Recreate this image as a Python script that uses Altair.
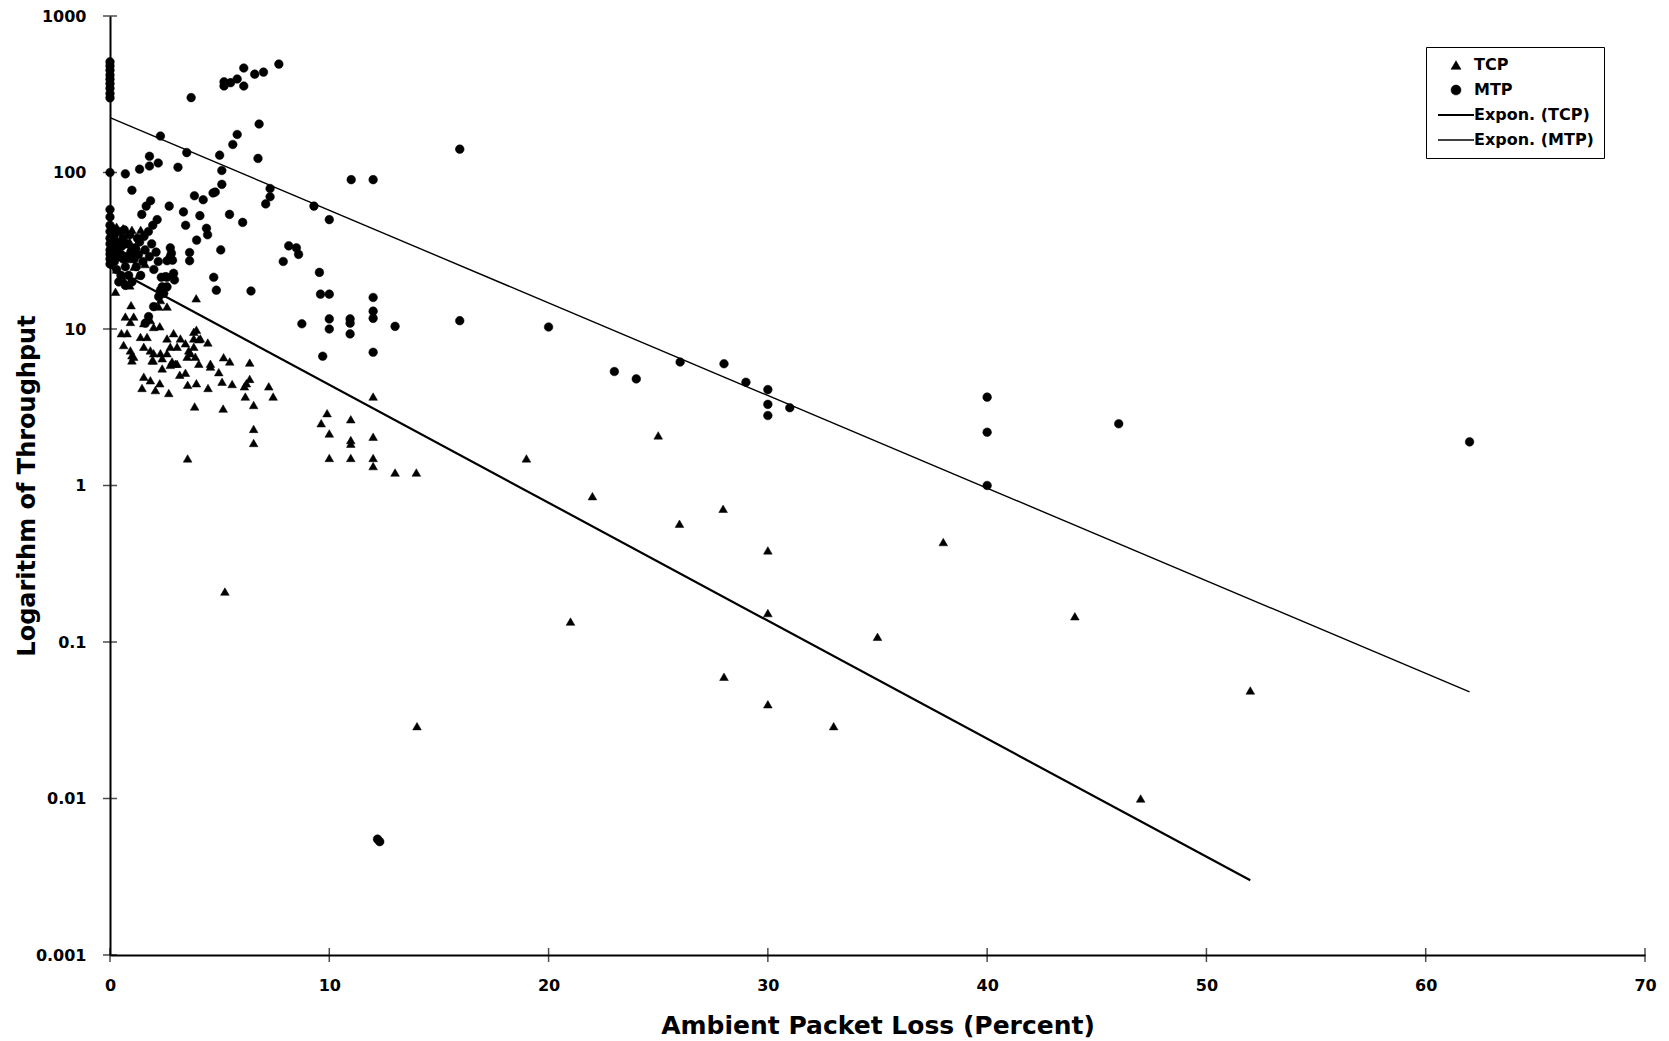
import altair as alt
import pandas as pd

series_names = ["TCP", "MTP", "Expon. (TCP)", "Expon. (MTP)"]
x_ticks = [0, 10, 20, 30, 40, 50, 60, 70]
y_ticks = [0.001, 0.01, 0.1, 1, 10, 100, 1000]

tcp_x = [0.3, 0.6, 1.0, 1.4, 0.5, 0.9, 1.2, 0.4, 0.8, 1.1, 0.3, 0.6, 1.3, 1.6, 0.9,
         0.25, 0.96, 0.7, 1.08, 0.93, 0.52, 0.78, 0.62, 0.93, 1.08, 1.0, 1.0,
         1.54, 1.84, 1.99, 1.69, 1.39, 2.22, 2.3, 2.6, 2.27, 2.6, 2.9, 3.21, 3.44, 3.06, 2.75, 1.54, 1.84, 1.99, 2.3, 2.6,
         3.59, 3.82, 3.89, 4.05, 3.67, 3.52, 3.94, 3.82, 4.12, 4.46, 3.93, 1.92, 2.38, 2.83, 3.06,
         1.54, 1.46, 1.84, 2.07, 2.27, 2.68, 1.97, 2.38, 2.98, 2.75, 3.18, 3.44, 3.54, 3.94, 3.86, 4.47, 4.58, 4.58, 4.96, 5.18, 5.46, 5.11, 5.57, 5.16, 3.54, 4.05, 3.82,
         6.37, 6.37, 6.22, 6.13, 6.17, 6.55, 6.55, 6.55, 7.24, 7.44,
         12.0, 9.9, 9.63, 10.98, 10.0, 10.98, 10.98, 12.0, 10.0, 10.98, 12.0, 12.0, 13.0, 13.97, 18.99,
         25, 22, 25.97, 27.96, 30, 30, 21, 28, 30, 33, 35, 38, 44, 47, 52, 14, 5.24]
tcp_y = [45, 44, 43, 43, 38, 36, 34, 30, 28, 25, 24, 21, 22, 26, 19,
         17.3, 14.2, 12.0, 12.0, 11.1, 9.4, 9.4, 7.9, 7.3, 6.65, 6.3, 6.8,
         10.9, 11.4, 10.3, 8.9, 8.9, 13.9, 15.3, 13.9, 10.4, 8.7, 9.4, 8.7, 8.1, 7.7, 7.7, 7.7, 7.3, 7.0, 7.0, 7.0,
         7.3, 7.7, 6.65, 6.0, 7.0, 6.65, 9.9, 8.7, 8.7, 8.2, 15.7, 6.3, 6.5, 6.2, 6.0,
         4.96, 4.2, 4.7, 4.07, 4.5, 3.9, 6.3, 5.6, 6.0, 5.9, 5.1, 5.25, 4.4, 4.5, 3.2, 4.2, 6.0, 5.75, 5.3, 6.6, 6.2, 4.6, 4.45, 3.1, 1.49, 8.6, 9.6,
         6.1, 4.8, 4.5, 4.3, 3.7, 3.27, 2.3, 1.87, 4.3, 3.7,
         3.7, 2.9, 2.5, 2.65, 2.15, 1.95, 1.85, 2.05, 1.5, 1.5, 1.5, 1.33, 1.21, 1.21, 1.49,
         2.09, 0.855, 0.57, 0.71, 0.385, 0.153, 0.135, 0.06, 0.04, 0.029, 0.108, 0.435, 0.146, 0.01, 0.049, 0.029, 0.21]

mtp_x = [0] * 20 + \
        [3.7, 5.2, 5.2, 5.5, 5.8, 6.1, 6.1, 6.6, 7.0, 7.7, 15.95, 2.3, 3.5, 1.8, 1.8, 2.2, 0.7, 1.35, 3.1, 5.0] + \
        [5.1, 5.6, 5.8, 6.8, 6.75, 5.1, 4.8, 4.7, 7.3, 7.3, 7.1, 9.3, 10.0, 11.0, 12.0, 1.0, 1.85, 1.65, 1.45, 2.7] + \
        [3.35, 3.45, 3.85, 4.25, 4.1, 4.4, 4.45, 3.95, 5.45, 6.05, 2.75, 8.15, 8.5, 5.05, 8.6, 7.9, 9.55, 9.6, 10.0, 12.0] + \
        [12.0, 12.0, 8.75, 10.0, 10.0, 10.95, 10.95, 10.95, 13.0, 15.95, 9.7, 12.0, 20, 23, 24, 26, 28, 29, 30, 30] + \
        [30, 31, 40, 40, 40, 46, 62, 12.3, 12.2] + \
        [3.63, 3.63, 2.8, 2.6, 2.85, 4.73, 4.85, 6.43, 2.34, 2.6, 2.9, 2.94, 2.6, 2.3, 2.45] + \
        [2.75, 2.53, 2.38, 2.22, 1.99, 1.76, 1.61, 0.75, 0.95, 1.15, 1.35, 1.55, 1.75, 1.95, 2.15] + \
        [0.1, 0.2, 0.3, 0.4, 0.5, 0.6, 0.2, 0.3, 0.5, 0.7, 0.8, 0.9, 1.0, 1.1, 1.2, 1.3, 1.4, 1.5, 0.4, 0.6,
         0.15, 0.35, 0.55, 0.85, 1.0, 0.7, 0.4, 1.25, 1.6, 1.8, 2.0, 1.9, 2.1, 2.2, 0.25, 0.65]
mtp_y = [300, 320, 345, 370, 395, 420, 450, 480, 510, 100, 58, 52, 46, 42, 38, 35, 32, 30, 28, 26] + \
        [301, 380, 357, 375, 396, 465, 357, 425, 438, 493, 141, 171, 134, 127, 110, 115, 98, 105, 108, 129] + \
        [103, 151, 175, 204, 123, 84, 75, 74, 79, 70, 63, 61, 50, 90, 90, 77, 66, 61, 54, 61] + \
        [56, 46, 71, 67, 53, 44, 40, 37, 54, 48, 33, 34, 33, 32, 30, 27, 23, 16.7, 16.7, 15.9] + \
        [13.0, 11.7, 10.8, 11.6, 10.0, 11.6, 10.9, 9.3, 10.4, 11.3, 6.7, 7.1, 10.3, 5.35, 4.8, 6.15, 6.0, 4.57, 4.1, 3.3] + \
        [2.8, 3.14, 3.67, 2.19, 1.0, 2.48, 1.9, 0.0053, 0.0055] + \
        [30.8, 27.3, 30.5, 27.3, 27.5, 21.4, 17.7, 17.5, 21.4, 21.4, 22.7, 20.6, 18.6, 17.7, 16.9] + \
        [29, 21.6, 18.6, 16.1, 13.9, 12.0, 10.9, 29, 31, 33, 36, 39, 42, 46, 50] + \
        [44, 40, 36, 33, 30, 28, 27, 24, 22, 25, 35, 40, 32, 28, 25, 30, 22, 27, 42, 38,
         31, 29, 34, 22, 20, 19, 20, 38, 32, 29, 24, 35, 31, 27, 34, 43]

# exponential trendline end points
trend_tcp_x = [0, 52]
trend_tcp_y = [25, 0.003]
trend_mtp_x = [0, 62]
trend_mtp_y = [224, 0.048]

pts = pd.DataFrame({
    "x": tcp_x + mtp_x,
    "y": tcp_y + mtp_y,
    "series": [series_names[0]] * len(tcp_x) + [series_names[1]] * len(mtp_x),
})
trend = pd.DataFrame({
    "x": trend_tcp_x + trend_mtp_x,
    "y": trend_tcp_y + trend_mtp_y,
    "series": [series_names[2]] * len(trend_tcp_x) + [series_names[3]] * len(trend_mtp_x),
})
xtick_df = pd.DataFrame({"x": x_ticks, "y": [y_ticks[0]] * len(x_ticks)})
ytick_df = pd.DataFrame({"x": [x_ticks[0]] * len(y_ticks), "y": y_ticks})

FONT = "DejaVu Sans"

x_axis = alt.Axis(values=x_ticks, title="Ambient Packet Loss (Percent)", grid=False, ticks=False,
                  domainColor="black", domainWidth=2,
                  labelFont=FONT, labelFontSize=16, labelFontWeight="bold", labelColor="black",
                  labelPadding=22, labelFlush=False, titleFont=FONT, titleFontSize=25,
                  titleFontWeight="bold", titleColor="black", titlePadding=20)
y_axis = alt.Axis(values=y_ticks, format="~g", title="Logarithm of Throughput", grid=False, ticks=False,
                  domainColor="black", domainWidth=2,
                  labelFont=FONT, labelFontSize=16, labelFontWeight="bold", labelColor="black",
                  labelPadding=24, labelFlush=False, titleFont=FONT, titleFontSize=24,
                  titleFontWeight="bold", titleColor="black", titlePadding=-4)

x_enc = alt.X("x:Q", scale=alt.Scale(domain=[0, 70], nice=False, zero=False), axis=x_axis)
y_enc = alt.Y("y:Q", scale=alt.Scale(type="log", domain=[0.001, 1000], nice=False), axis=y_axis)

xticks_layer = alt.Chart(xtick_df).mark_tick(
    orient="vertical", color="black", size=14, thickness=1.5
).encode(x=x_enc, y=y_enc)
yticks_layer = alt.Chart(ytick_df).mark_tick(
    orient="horizontal", color="black", size=14, thickness=1.5
).encode(x=x_enc, y=y_enc)

tcp_line = alt.Chart(trend).transform_filter(
    alt.datum.series == series_names[2]
).mark_line(color="black", strokeWidth=2.2).encode(x=x_enc, y=y_enc)

mtp_line = alt.Chart(trend).transform_filter(
    alt.datum.series == series_names[3]
).mark_line(color="black", strokeWidth=1.4).encode(x=x_enc, y=y_enc)

line_symbol = "M-3.6,0H3.6"
leg = dict(symbolOffset=12, labelOffset=10)
black4 = ["black", "black", "black", "black"]

points = alt.Chart(pts).mark_point(filled=True, opacity=1, size=75).encode(
    x=x_enc,
    y=y_enc,
    shape=alt.Shape("series:N", title=None, legend=alt.Legend(**leg),
                    scale=alt.Scale(domain=series_names,
                                    range=["triangle-up", "circle", line_symbol, line_symbol])),
    fill=alt.Fill("series:N", title=None, legend=alt.Legend(**leg),
                  scale=alt.Scale(domain=series_names, range=black4)),
    stroke=alt.Stroke("series:N", title=None, legend=alt.Legend(**leg),
                      scale=alt.Scale(domain=series_names, range=black4)),
    strokeWidth=alt.StrokeWidth("series:N", title=None, legend=alt.Legend(**leg),
                                scale=alt.Scale(type="ordinal", domain=series_names,
                                                range=[0.5, 0.5, 2.2, 1.4])),
)

chart = alt.layer(tcp_line, mtp_line, points, xticks_layer, yticks_layer).properties(
    width=1535, height=939,
    autosize=alt.AutoSizeParams(type="none"),
    padding={"left": 110, "top": 16, "right": 24, "bottom": 86},
    background="white",
).configure_view(stroke=None).configure_legend(
    orient="none", legendX=1316, legendY=31, strokeColor="black", padding=10,
    labelFont=FONT, labelFontSize=16, labelFontWeight="bold", labelColor="black",
    rowPadding=9,
)

chart.save("out.html", embed_options={"renderer": "svg", "actions": False})
